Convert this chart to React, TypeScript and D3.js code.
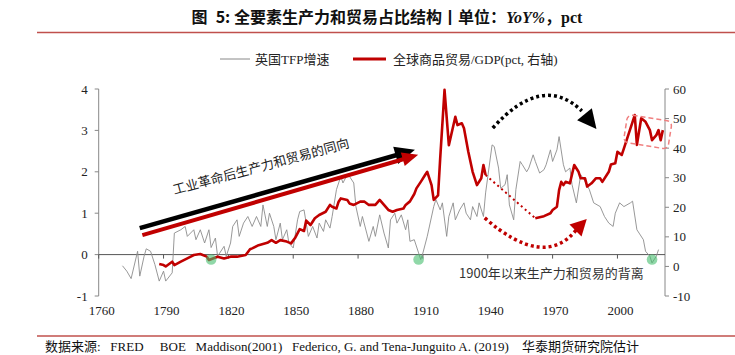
import React from "react";
import * as d3 from "d3";

// ---------- data ----------
const tfpYears = [1771,1773,1775,1778,1779,1781,1782,1784,1786,1788,1790,1791,1794,1795,1798,1800,1801,1804,1805,1807,1809,1811,1812,1814,1815,1818,1819,1821,1822,1824,1825,1827,1829,1831,1833,1835,1836,1838,1839,1841,1842,1844,1845,1847,1848,1850,1852,1853,1855,1857,1859,1861,1862,1864,1865,1867,1868,1870,1872,1873,1875,1876,1878,1879,1881,1882,1884,1885,1887,1888,1890,1892,1894,1895,1897,1898,1900,1902,1903,1904,1906,1908,1909,1910,1912,1915,1916,1918,1919,1921,1922,1924,1925,1927,1929,1930,1932,1933,1935,1936,1938,1939,1942,1943,1945,1946,1948,1949,1950,1952,1953,1955,1956,1958,1959,1961,1962,1964,1966,1967,1969,1970,1972,1973,1975,1976,1978,1979,1981,1983,1985,1987,1989,1992,1994,1996,1998,1999,2001,2003,2006,2007,2009,2010,2012,2013,2015,2016,2018,2019];
const tfpValues = [-0.27,-0.4,-0.58,0.08,-0.52,-0.04,0.14,0.08,-0.24,-0.64,-0.4,-0.64,-0.44,0.52,0.6,0.68,0.44,0.6,0.36,0.6,0.28,0.6,0.17,0.4,-0.04,0.2,-0.04,0.28,0.68,0.84,0.44,0.76,0.92,0.68,0.92,0.68,1.2,0.68,1.0,0.68,0.36,0.76,0.36,0.6,0.28,0.16,0.84,1.04,1.08,0.44,0.68,0.4,0.76,0.56,0.84,0.64,0.92,1.57,1.89,1.73,1.93,1.89,1.73,1.16,0.68,0.92,0.52,0.32,0.68,0.44,0.96,0.52,0.16,0.84,1.0,0.76,0.96,0.6,0.84,0.32,0.36,0.04,-0.12,0.04,0.44,1.16,1.33,1.08,1.25,0.44,0.92,1.25,0.84,1.08,1.25,1.0,0.84,1.16,0.92,1.25,0.92,1.49,2.65,2.61,2.09,1.6,1.69,1.93,1.2,0.84,1.57,2.25,2.17,2.0,2.09,2.41,2.25,1.97,2.05,2.17,2.53,2.25,2.53,2.85,2.17,2.0,2.09,1.69,1.25,1.93,1.77,1.57,1.25,1.16,0.92,0.76,0.68,1.0,1.25,1.16,1.25,1.29,0.6,0.52,0.36,0.08,-0.04,-0.2,-0.04,0.12];

const tradeYearsA = [1788,1790,1791,1794,1795,1798,1801,1804,1807,1810,1811,1815,1818,1821,1824,1828,1830,1831,1834,1838,1840,1842,1844,1847,1849,1851,1853,1855,1856,1858,1860,1862,1865,1867,1868,1870,1871,1872,1875,1876,1878,1881,1883,1885,1888,1890,1892,1894,1896,1898,1901,1902,1904,1906,1907,1909,1911,1912,1914,1915,1917,1918,1920,1922,1925,1926,1928,1929,1931,1933,1935,1937,1938,1939];
const tradeValuesA = [0.8,0.47,0.0,1.6,0.47,1.6,2.7,3.86,4.2,3.3,2.2,3.3,2.7,3.3,3.3,3.86,5.8,6.1,7.2,8.0,8.9,8.0,8.9,8.4,7.8,9.8,12.6,12.0,15.5,14.0,16.3,17.4,18.5,20.8,20.2,19.6,21.9,23.0,22.5,21.3,20.8,21.9,21.9,20.8,20.8,22.5,20.8,19.1,18.5,19.1,19.6,20.8,22.0,24.5,26.4,28.6,30.9,32.0,27.5,22.5,24.0,36.6,59.7,41.0,50.6,47.8,48.4,46.7,38.8,32.0,27.5,29.8,34.3,30.9];
const tradeYearsB = [1962,1966,1969,1970,1972,1973,1974,1975,1976,1978,1980,1982,1983,1985,1986,1988,1990,1992,1993,1996,1997,1999,2000,2002,2003,2005,2007,2008,2009,2011,2013,2015,2016,2018,2019,2020,2021];
const tradeValuesB = [16.3,17.0,18.0,19.1,20.2,25.8,28.6,27.5,28.6,28.1,34.3,32.0,29.8,29.8,27.0,28.1,29.8,29.8,28.6,32.0,34.5,34.9,38.8,37.7,39.9,44.4,48.9,51.2,41.1,50.1,48.9,46.1,42.7,44.4,46.1,42.7,46.1];

const xTicks = [1760,1790,1820,1850,1880,1910,1940,1970,2000];
const leftTicks = [-1,0,1,2,3,4];
const rightTicks = [-10,0,10,20,30,40,50,60];
const greenMarkYears = [1812,1908,2016];

const titleHead = "图 ";
const titleMain = "5: 全要素生产力和贸易占比结构丨单位：";
const titleItal = "YoY%";
const titleTail = "，pct";
const legendTFP = "英国TFP增速";
const legendTrade = "全球商品贸易/GDP(pct, 右轴)";
const upText = "工业革命后生产力和贸易的同向";
const divText = "1900年以来生产力和贸易的背离";
const footer = "数据来源:   FRED     BOE   Maddison(2001)   Federico, G. and Tena-Junguito A. (2019)    华泰期货研究院估计";

// ---------- layout ----------
const W = 735, H = 355;
const x = d3.scaleLinear().domain([1760, 2022]).range([98.7, 665]);
const yL = d3.scaleLinear().domain([-1, 4]).range([296, 89]);
const yR = d3.scaleLinear().domain([-10, 60]).range([296, 89]);

const SERIF = "'Liberation Serif','Times New Roman','Noto Sans CJK SC',serif";
const SANS = "'Noto Sans CJK SC','Liberation Sans',sans-serif";
const RED = "#C00000";
const LINE_RED = "#C0504D";

function arrowHead(x1: number, y1: number, x2: number, y2: number, len: number, half: number) {
  const dx = x2 - x1, dy = y2 - y1;
  const L = Math.hypot(dx, dy);
  const ux = dx / L, uy = dy / L;
  const bx = x2 - ux * len, by = y2 - uy * len;
  const px = -uy, py = ux;
  return `${x2},${y2} ${bx + px * half},${by + py * half} ${bx - px * half},${by - py * half}`;
}

const pt = (yr: number, v: number, sc: d3.ScaleLinear<number, number>) => [x(yr), sc(v)];
const ctrl = (p0: number[], mid: number[], p2: number[]) => [2 * mid[0] - 0.5 * (p0[0] + p2[0]), 2 * mid[1] - 0.5 * (p0[1] + p2[1])];

export default function App() {
  const tfpLine = d3.line<number>().x((_, i) => x(tfpYears[i])).y((v) => yL(v));
  const lineA = d3.line<number>().x((_, i) => x(tradeYearsA[i])).y((v) => yR(v));
  const lineB = d3.line<number>().x((_, i) => x(tradeYearsB[i])).y((v) => yR(v));

  const gapStart = pt(tradeYearsA[tradeYearsA.length - 1], tradeValuesA[tradeValuesA.length - 1], yR);
  const gapEnd = pt(tradeYearsB[0], tradeValuesB[0], yR);

  // co-movement arrows
  const bA = pt(1779, 0.64, yL), bB = pt(1906.3, 2.53, yL);
  const rA = pt(1780.2, 0.47, yL), rB = pt(1907.8, 2.41, yL);
  const back = (a: number[], b: number[], d: number) => {
    const dx = b[0] - a[0], dy = b[1] - a[1], L = Math.hypot(dx, dy);
    return [b[0] - dx / L * d, b[1] - dy / L * d];
  };
  const bBase = back(bA, bB, 16);
  const rBase = back(rA, rB, 13);
  const angle = Math.atan2(bB[1] - bA[1], bB[0] - bA[0]) * 180 / Math.PI + 0.8;

  // curved dotted arcs
  const kA = pt(1942.3, 46.8, yR), kM = pt(1964.1, 57.6, yR), kE = pt(1983.5, 52.6, yR), kTip = pt(1990.3, 46.5, yR);
  const sA = pt(1938.6, 16.4, yR), sM = pt(1963.1, 6.6, yR), sE = pt(1981.2, 12.6, yR), sTip = pt(1985.8, 16.0, yR);
  const kCtrl = ctrl(kA, kM, kE);
  const sCtrl = ctrl(sA, sM, sE);

  const boxC = pt(2014, 45.5, yR);
  const txtPos = pt(1795, 1.45, yL);

  return (
    <svg width={W} height={H} style={{ position: "absolute", left: 0, top: 0, background: "#fff" }}>
      {/* title */}
      <text x={387} y={23} textAnchor="middle" fontSize={16} fontWeight="bold" fill="#111" fontFamily={SANS} style={{ whiteSpace: "pre" }}>
        {titleHead}
        <tspan fontWeight="normal" fontFamily="'Liberation Sans',sans-serif">{" "}</tspan>
        {titleMain}
        <tspan fontFamily={SERIF} fontStyle="italic">{titleItal}</tspan>
        <tspan fontFamily={SERIF}>{titleTail}</tspan>
      </text>
      <line x1={37} x2={735} y1={32.5} y2={32.5} stroke={LINE_RED} strokeWidth={1.5} />

      {/* legend */}
      <line x1={220} x2={250} y1={59} y2={59} stroke="#888" strokeWidth={1} />
      <text x={255} y={63.5} fontSize={13} fontFamily={SERIF} fill="#222">{legendTFP}</text>
      <line x1={353} x2={386} y1={59} y2={59} stroke={RED} strokeWidth={2.8} />
      <text x={393} y={63.5} fontSize={13} fontFamily={SERIF} fill="#222">{legendTrade}</text>

      {/* axes */}
      <line x1={x(1760)} x2={x(1760)} y1={yL(4)} y2={yL(-1)} stroke="#888" strokeWidth={1} />
      {leftTicks.map((t) => (
        <g key={"l" + t}>
          <line x1={x(1760) - 4} x2={x(1760)} y1={yL(t)} y2={yL(t)} stroke="#888" />
          <text x={x(1760) - 11} y={yL(t) + 4.5} textAnchor="end" fontSize={13} fontFamily={SERIF} fill="#222">{t}</text>
        </g>
      ))}
      <line x1={665} x2={665} y1={yR(60)} y2={yR(-10)} stroke="#888" strokeWidth={1} />
      {rightTicks.map((t) => (
        <g key={"r" + t}>
          <line x1={665} x2={669} y1={yR(t)} y2={yR(t)} stroke="#888" />
          <text x={673} y={yR(t) + 4.5} fontSize={13} fontFamily={SERIF} fill="#222">{t}</text>
        </g>
      ))}
      <line x1={x(1760)} x2={665} y1={yL(0)} y2={yL(0)} stroke="#555" strokeWidth={1} />
      {xTicks.map((t) => (
        <g key={"x" + t}>
          <line x1={x(t)} x2={x(t)} y1={yL(0)} y2={yL(0) + 4} stroke="#555" />
          <text x={x(t) + 3} y={315} textAnchor="middle" fontSize={13} fontFamily={SERIF} fill="#222">{t}</text>
        </g>
      ))}

      {/* series */}
      <path d={tfpLine(tfpValues) || ""} fill="none" stroke="#8c8c8c" strokeWidth={0.9} />
      <path d={lineA(tradeValuesA) || ""} fill="none" stroke={RED} strokeWidth={2.6} strokeLinejoin="round" />
      <path d={lineB(tradeValuesB) || ""} fill="none" stroke={RED} strokeWidth={2.6} strokeLinejoin="round" />
      <line x1={gapStart[0]} y1={gapStart[1]} x2={gapEnd[0]} y2={gapEnd[1]} stroke={RED} strokeWidth={2} strokeDasharray="2 3.2" />

      {/* green markers */}
      {greenMarkYears.map((g) => (
        <circle key={g} cx={x(g)} cy={yL(-0.12)} r={5.3} fill="rgba(70,190,110,0.6)" />
      ))}

      {/* co-movement arrows */}
      <line x1={bA[0]} y1={bA[1]} x2={bBase[0]} y2={bBase[1]} stroke="#000" strokeWidth={4.5} />
      <polygon points={arrowHead(bA[0], bA[1], bB[0], bB[1], 20, 9)} fill="#000" />
      <line x1={rA[0]} y1={rA[1]} x2={rBase[0]} y2={rBase[1]} stroke={RED} strokeWidth={4} />
      <polygon points={arrowHead(rA[0], rA[1], rB[0], rB[1], 16, 7)} fill={RED} />
      <text transform={`translate(${txtPos[0]},${txtPos[1]}) rotate(${angle})`} fontSize={13} fontFamily={SANS} fill="#222">{upText}</text>

      {/* black dotted arc */}
      <path d={`M${kA[0]},${kA[1]} Q${kCtrl[0]},${kCtrl[1]} ${kE[0]},${kE[1]}`} fill="none" stroke="#000" strokeWidth={3.5} strokeDasharray="3 3" />
      <polygon points={arrowHead(kE[0], kE[1], kTip[0], kTip[1], 19, 9.5)} fill="#000" />

      {/* red dotted arc */}
      <path d={`M${sA[0]},${sA[1]} Q${sCtrl[0]},${sCtrl[1]} ${sE[0]},${sE[1]}`} fill="none" stroke={RED} strokeWidth={3.5} strokeDasharray="3 3" />
      <polygon points={arrowHead(sE[0], sE[1], sTip[0], sTip[1], 16, 8.5)} fill={RED} />

      {/* highlight box */}
      <rect x={boxC[0] - 22.5} y={boxC[1] - 14} width={45} height={28} rx={5} fill="none" stroke="#F08080" strokeWidth={1.5} strokeDasharray="5 3"
        transform={`rotate(9 ${boxC[0]} ${boxC[1]})`} />

      <text x={459} y={278} fontSize={13} fontFamily={SANS} fill="#333">{divText}</text>

      {/* footer */}
      <line x1={37} x2={735} y1={336} y2={336} stroke={LINE_RED} strokeWidth={1.5} />
      <text x={45} y={351} fontSize={13} fontFamily={SERIF} fill="#111" style={{ whiteSpace: "pre" }}>{footer}</text>
    </svg>
  );
}
